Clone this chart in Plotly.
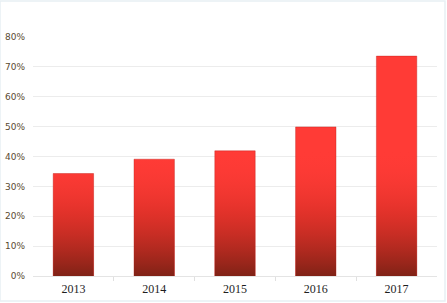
import plotly.graph_objects as go

years = ["2013", "2014", "2015", "2016", "2017"]
values = [0.343, 0.391, 0.419, 0.499, 0.736]
y_ticks = [0, 0.1, 0.2, 0.3, 0.4, 0.5, 0.6, 0.7, 0.8]
y_labels = ["0%", "10%", "20%", "30%", "40%", "50%", "60%", "70%", "80%"]

idx = list(range(len(years)))
bar_w = 0.5

fig = go.Figure()
fig.add_trace(go.Bar(
    x=idx, y=values, width=bar_w,
    marker=dict(color="#ff3b36", line=dict(width=0.8, color="rgba(190,30,25,0.5)")),
    hoverinfo="x+y", showlegend=False,
))

# vertical gradient overlay on each bar (darker toward the base)
for i, v in zip(idx, values):
    fig.add_trace(go.Scatter(
        x=[i - bar_w / 2, i + bar_w / 2, i + bar_w / 2, i - bar_w / 2, i - bar_w / 2],
        y=[0, 0, v, v, 0],
        mode="lines", line=dict(width=0), fill="toself",
        fillgradient=dict(type="vertical", start=0, stop=0.42,
                          colorscale=[[0, "rgba(128,34,22,1)"],
                                      [0.5, "rgba(200,42,32,0.55)"],
                                      [1, "rgba(255,59,54,0)"]]),
        hoverinfo="skip", showlegend=False,
    ))

# faint outer frame of the chart panel
fig.add_shape(type="rect", xref="paper", yref="paper",
              x0=-33 / 404, x1=412 / 404, y0=-25 / 239, y1=275 / 239,
              line=dict(color="#e8f0f4", width=1.5), layer="below")

fig.update_layout(
    width=447, height=303,
    margin=dict(l=33, r=10, t=37, b=27, autoexpand=False),
    paper_bgcolor="white", plot_bgcolor="white",
    bargap=0.5,
    xaxis=dict(
        range=[-0.5, len(years) - 0.5],
        tickmode="array", tickvals=idx, ticktext=years,
        showgrid=False, zeroline=False,
        showline=True, linecolor="#e4e4e4", linewidth=1,
        ticks="",
        minor=dict(tickmode="array", tickvals=[i + 0.5 for i in idx[:-1]],
                   ticks="outside", ticklen=4, tickcolor="#e0e0e0", showgrid=False),
        tickfont=dict(family="Liberation Serif", size=12, color="#1e1e1e"),
        ticklabelstandoff=2,
        automargin=False,
        fixedrange=True,
    ),
    yaxis=dict(
        range=[0, 0.8],
        tickmode="array", tickvals=y_ticks, ticktext=y_labels,
        showgrid=True, gridcolor="#ececec", gridwidth=1,
        zeroline=False, showline=False, ticks="",
        tickfont=dict(family="DejaVu Sans", size=9, color="#5a4a30"),
        ticklabelstandoff=7,
        automargin=False,
        fixedrange=True,
    ),
)

fig.write_html("out.html")
